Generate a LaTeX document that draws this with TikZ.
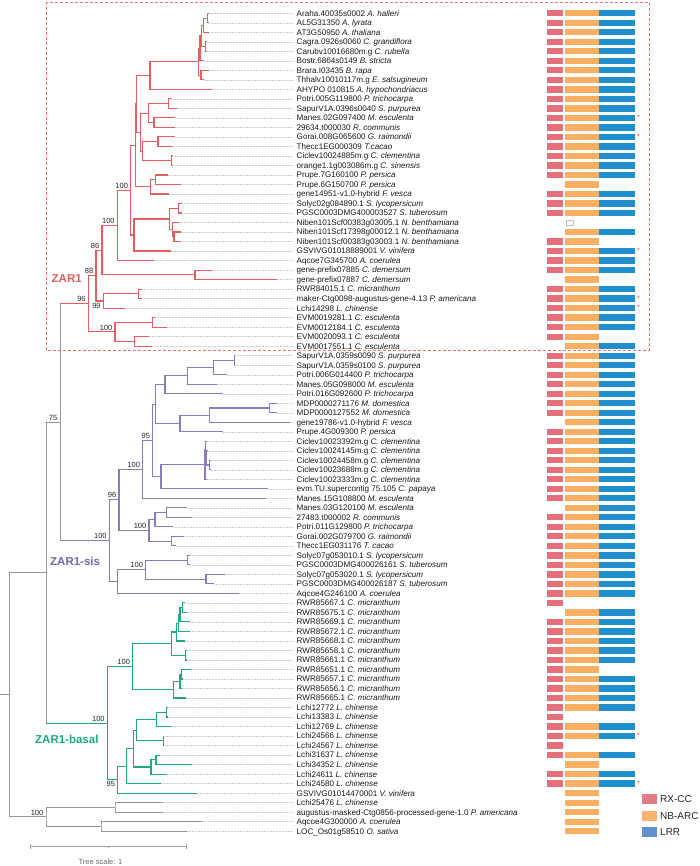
\documentclass[tikz,border=0pt]{standalone}
\usepackage{fontspec}
\setmainfont{Liberation Sans}
\definecolor{zred}{RGB}{224,96,96}
\definecolor{zpur}{RGB}{140,122,190}
\definecolor{zpurt}{RGB}{120,100,175}
\definecolor{zgrn}{RGB}{32,168,128}
\definecolor{zgry}{RGB}{150,150,150}
\definecolor{bR}{RGB}{228,112,124}
\definecolor{bO}{RGB}{250,176,98}
\definecolor{bB}{RGB}{32,142,204}
\definecolor{lR}{RGB}{226,124,134}
\definecolor{lO}{RGB}{250,178,112}
\definecolor{lB}{RGB}{96,144,210}
\tikzset{
 lab/.style={anchor=base west, inner sep=0pt, yshift=-2.9pt, font=\fontsize{8.1}{9}\selectfont, text=black!90},
 lead/.style={draw=gray!40, line width=0.35pt, dash pattern=on 0.5pt off 1pt},
 brR/.style={draw=zred, line width=1.1pt},
 brP/.style={draw=zpur, line width=1.1pt},
 brG/.style={draw=zgrn, line width=1.1pt},
 brK/.style={draw=zgry, line width=1pt},
 bs/.style={anchor=south east, inner sep=0pt, font=\fontsize{7.5}{8}\selectfont, text=black!85, xshift=-2.5pt, yshift=1.6pt},
 bsb/.style={anchor=north east, inner sep=0pt, font=\fontsize{7.5}{8}\selectfont, text=black!85, xshift=-2.5pt, yshift=-1.8pt},
 clab/.style={anchor=base west, inner sep=0pt, yshift=-4.1pt, font=\fontsize{11.5}{12}\selectfont\bfseries},
 ast/.style={inner sep=0pt, text=zred, font=\fontsize{8}{8}\selectfont},
 zbox/.style={draw=zred!85, line width=0.9pt, dash pattern=on 3pt off 2pt},
}
\newcommand{\lf}[4]{\coordinate (t#1) at (#2,#1); \draw[lead] (t#1) -- (293,#1); \node[lab] (l#1) at (296.5,#1) {#3 \textit{#4}};}
\newcommand{\pr}[4]{\draw[#1] (#3) -| (#2) |- (#4);}
\newcommand{\dm}[4]{%
 \ifnum#2=1 \fill[bR] (547,#1) +(0,-0.33) rectangle +(16,0.33);\fi
 \ifnum#3=1 \fill[bO] (565,#1) +(0,-0.33) rectangle +(34,0.33);\fi
 \ifnum#4=1 \fill[bB] (599,#1) +(0,-0.33) rectangle +(36,0.33);\fi}
\begin{document}
\begin{tikzpicture}[x=1pt,y=-9.51pt,line join=miter]
\fill[white] (0pt,3.79pt) rectangle (700pt,-862.21pt);
\useasboundingbox (0pt,3.79pt) rectangle (700pt,-862.21pt);
% leaves
\lf{1}{209.3}{Araha.40035s0002}{A. halleri}
\lf{2}{209.3}{AL5G31350}{A. lyrata}
\lf{3}{209.3}{AT3G50950}{A. thaliana}
\lf{4}{207.3}{Cagra.0926s0060}{C. grandiflora}
\lf{5}{207.3}{Carubv10016680m.g}{C. rubella}
\lf{6}{204}{Bostr.6864s0149}{B. stricta}
\lf{7}{209.3}{Brara.I03435}{B. rapa}
\lf{8}{204}{Thhalv10010117m.g}{E. salsugineum}
\lf{9}{212.3}{AHYPO 010815}{A. hypochondriacus}
\lf{10}{172.3}{Potri.005G119800}{P. trichocarpa}
\lf{11}{176.7}{SapurV1A.0396s0040}{S. purpurea}
\lf{12}{175}{Manes.02G097400}{M. esculenta}
\lf{13}{175}{29634.t000030}{R. communis}
\lf{14}{175}{Gorai.008G065600}{G. raimondii}
\lf{15}{173.3}{Thecc1EG000309}{T.cacao}
\lf{16}{172.3}{Ciclev10024885m.g}{C. clementina}
\lf{17}{172.3}{orange1.1g003086m.g}{C. sinensis}
\lf{18}{167.7}{Prupe.7G160100}{P. persica}
\lf{19}{181}{Prupe.6G150700}{P. persica}
\lf{20}{168.7}{gene14951-v1.0-hybrid}{F. vesca}
\lf{21}{182.3}{Solyc02g084890.1}{S. lycopersicum}
\lf{22}{182.3}{PGSC0003DMG400003527}{S. tuberosum}
\lf{23}{179}{Niben101Scf00383g03005.1}{N. benthamiana}
\lf{24}{181}{Niben101Scf17398g00012.1}{N. benthamiana}
\lf{25}{181}{Niben101Scf00383g03003.1}{N. benthamiana}
\lf{26}{170.7}{GSVIVG01018889001}{V. vinifera}
\lf{27}{153.7}{Aqcoe7G345700}{A. coerulea}
\lf{28}{212.3}{gene-prefix07885}{C. demersum}
\lf{29}{276.7}{gene-prefix07887}{C. demersum}
\lf{30}{142.3}{RWR84015.1}{C. micranthum}
\lf{31}{142.3}{maker-Ctg0098-augustus-gene-4.13}{P. americana}
\lf{32}{125}{Lchi14298}{L. chinense}
\lf{33}{155.3}{EVM0019281.1}{C. esculenta}
\lf{34}{167.3}{EVM0012184.1}{C. esculenta}
\lf{35}{148.7}{EVM0020093.1}{C. esculenta}
\lf{36}{152}{EVM0017551.1}{C. esculenta}
\lf{37}{235.3}{SapurV1A.0359s0090}{S. purpurea}
\lf{38}{235.3}{SapurV1A.0359s0100}{S. purpurea}
\lf{39}{226.7}{Potri.006G014400}{P. trichocarpa}
\lf{40}{216.7}{Manes.05G098000}{M. esculenta}
\lf{41}{222.7}{Potri.016G092600}{P. trichocarpa}
\lf{42}{276.7}{MDP0000271176}{M. domestica}
\lf{43}{276.7}{MDP0000127552}{M. domestica}
\lf{44}{290}{gene19786-v1.0-hybrid}{F. vesca}
\lf{45}{222.7}{Prupe.4G009300}{P. persica}
\lf{46}{206.7}{Ciclev10023392m.g}{C. clementina}
\lf{47}{207.3}{Ciclev10024145m.g}{C. clementina}
\lf{48}{210.7}{Ciclev10024458m.g}{C. clementina}
\lf{49}{210.7}{Ciclev10023688m.g}{C. clementina}
\lf{50}{206.7}{Ciclev10023333m.g}{C. clementina}
\lf{51}{268.3}{evm.TU.supercontig 75.105}{C. papaya}
\lf{52}{266}{Manes.15G108800}{M. esculenta}
\lf{53}{187.3}{Manes.03G120100}{M. esculenta}
\lf{54}{191.7}{27483.t000002}{R. communis}
\lf{55}{173.3}{Potri.011G129800}{P. trichocarpa}
\lf{56}{184.3}{Gorai.002G079700}{G. raimondii}
\lf{57}{176}{Thecc1EG031176}{T. cacao}
\lf{58}{190}{Solyc07g053010.1}{S. lycopersicum}
\lf{59}{190}{PGSC0003DMG400026161}{S. tuberosum}
\lf{60}{225}{Solyc07g053020.1}{S. lycopersicum}
\lf{61}{214.3}{PGSC0003DMG400026187}{S. tuberosum}
\lf{62}{239}{Aqcoe4G246100}{A. coerulea}
\lf{63}{185}{RWR85667.1}{C. micranthum}
\lf{64}{186.7}{RWR85675.1}{C. micranthum}
\lf{65}{190}{RWR85669.1}{C. micranthum}
\lf{66}{190}{RWR85672.1}{C. micranthum}
\lf{67}{185}{RWR85668.1}{C. micranthum}
\lf{68}{187}{RWR85658.1}{C. micranthum}
\lf{69}{187}{RWR85661.1}{C. micranthum}
\lf{70}{191}{RWR85651.1}{C. micranthum}
\lf{71}{183.3}{RWR85657.1}{C. micranthum}
\lf{72}{181.7}{RWR85656.1}{C. micranthum}
\lf{73}{185.7}{RWR85665.1}{C. micranthum}
\lf{74}{167.7}{Lchi12772}{L. chinense}
\lf{75}{167.7}{Lchi13383}{L. chinense}
\lf{76}{170.7}{Lchi12769}{L. chinense}
\lf{77}{164}{Lchi24566}{L. chinense}
\lf{78}{164}{Lchi24567}{L. chinense}
\lf{79}{160}{Lchi31637}{L. chinense}
\lf{80}{191.7}{Lchi34352}{L. chinense}
\lf{81}{166.7}{Lchi24611}{L. chinense}
\lf{82}{161}{Lchi24580}{L. chinense}
\lf{83}{196.7}{GSVIVG01014470001}{V. vinifera}
\lf{84}{162.7}{Lchi25476}{L. chinense}
\lf{85}{162.7}{augustus-masked-Ctg0856-processed-gene-1.0}{P. americana}
\lf{86}{201.7}{Aqcoe4G300000}{A. coerulea}
\lf{87}{187.3}{LOC\_Os01g58510}{O. sativa}
% ZAR1 internal nodes
\coordinate (a12) at (207.3,1.5);
\coordinate (a123) at (203.3,2.25);
\coordinate (a45) at (205.7,4.5);
\coordinate (a15) at (201.3,3.375);
\coordinate (a16) at (200,4.6875);
\coordinate (a78) at (201,7.5);
\coordinate (aBr) at (198.3,6.094);
\coordinate (aBrA) at (150,7.547);
\coordinate (a1011) at (168.3,10.5);
\coordinate (a1213) at (154,12.5);
\coordinate (a1013) at (148.3,11.5);
\coordinate (a1415) at (158,14.5);
\coordinate (a1617) at (171.7,16.5);
\coordinate (a1417) at (142.7,15.5);
\coordinate (a1017) at (140.7,13.5);
\coordinate (aM1) at (136.7,10.52);
\coordinate (a1819) at (155.7,18.5);
\coordinate (a1820) at (150.7,19.25);
\coordinate (aM2) at (135.3,14.89);
\coordinate (a2122) at (178.3,21.5);
\coordinate (a2425) at (174,24.5);
\coordinate (a2325) at (172.7,23.75);
\coordinate (aSol) at (169.3,22.625);
\coordinate (aSolV) at (134,24.31);
\coordinate (aC) at (130.7,19.6);
\coordinate (aB) at (117.3,23.3);
\coordinate (aDem) at (195,28.5);
\coordinate (a86) at (102,25.9);
\coordinate (a3031) at (138.3,30.5);
\coordinate (a99) at (103.3,31.25);
\coordinate (a88) at (96,28.575);
\coordinate (a3334) at (152.7,33.5);
\coordinate (a3536) at (134.3,35.5);
\coordinate (aE) at (115,34.5);
\coordinate (aZ) at (88.3,31.54);
\pr{brR}{a12}{t1}{t2}
\pr{brR}{a123}{a12}{t3}
\pr{brR}{a45}{t4}{t5}
\pr{brR}{a15}{a123}{a45}
\pr{brR}{a16}{a15}{t6}
\pr{brR}{a78}{t7}{t8}
\pr{brR}{aBr}{a16}{a78}
\pr{brR}{aBrA}{aBr}{t9}
\pr{brR}{a1011}{t10}{t11}
\pr{brR}{a1213}{t12}{t13}
\pr{brR}{a1013}{a1011}{a1213}
\pr{brR}{a1415}{t14}{t15}
\pr{brR}{a1617}{t16}{t17}
\pr{brR}{a1417}{a1415}{a1617}
\pr{brR}{a1017}{a1013}{a1417}
\pr{brR}{aM1}{aBrA}{a1017}
\pr{brR}{a1819}{t18}{t19}
\pr{brR}{a1820}{a1819}{t20}
\pr{brR}{aM2}{aM1}{a1820}
\pr{brR}{a2122}{t21}{t22}
\pr{brR}{a2425}{t24}{t25}
\pr{brR}{a2325}{t23}{a2425}
\pr{brR}{aSol}{a2122}{a2325}
\pr{brR}{aSolV}{aSol}{t26}
\pr{brR}{aC}{aM2}{aSolV}
\pr{brR}{aB}{aC}{t27}
\pr{brR}{aDem}{t28}{t29}
\pr{brR}{a86}{aB}{aDem}
\pr{brR}{a3031}{t30}{t31}
\pr{brR}{a99}{a3031}{t32}
\pr{brR}{a88}{a86}{a99}
\pr{brR}{a3334}{t33}{t34}
\pr{brR}{a3536}{t35}{t36}
\pr{brR}{aE}{a3334}{a3536}
\pr{brR}{aZ}{a88}{aE}
% ZAR1-sis internal nodes
\coordinate (s3738) at (234.3,37.5);
\coordinate (s3739) at (213.3,38.25);
\coordinate (s3740) at (187.3,39.125);
\coordinate (s3741) at (165,40.06);
\coordinate (s4243) at (269.3,42.5);
\coordinate (s4244) at (209.3,43.25);
\coordinate (s4245) at (180,44.125);
\coordinate (s3745) at (155.3,42.09);
\coordinate (s4849) at (209.3,48.5);
\coordinate (s4749) at (206.7,47.75);
\coordinate (s4649) at (205.8,46.875);
\coordinate (sCic) at (205,48.44);
\coordinate (s4651) at (161,49.72);
\coordinate (s95) at (152.7,45.9);
\coordinate (s100a) at (142.7,48.95);
\coordinate (s5354) at (166.7,53.5);
\coordinate (s5355) at (155,54.25);
\coordinate (s5657) at (171.7,56.5);
\coordinate (s5357) at (149,55.375);
\coordinate (s96) at (119,52.16);
\coordinate (s5859) at (187.3,58.5);
\coordinate (s6061) at (206,60.5);
\coordinate (s5861) at (145.7,59.5);
\coordinate (s5862) at (117.3,60.75);
\coordinate (sS) at (109.3,56.45);
\pr{brP}{s3738}{t37}{t38}
\pr{brP}{s3739}{s3738}{t39}
\pr{brP}{s3740}{s3739}{t40}
\pr{brP}{s3741}{s3740}{t41}
\pr{brP}{s4243}{t42}{t43}
\pr{brP}{s4244}{s4243}{t44}
\pr{brP}{s4245}{s4244}{t45}
\pr{brP}{s3745}{s3741}{s4245}
\pr{brP}{s4849}{t48}{t49}
\pr{brP}{s4749}{t47}{s4849}
\pr{brP}{s4649}{t46}{s4749}
\pr{brP}{sCic}{s4649}{t50}
\pr{brP}{s4651}{sCic}{t51}
\pr{brP}{s95}{s3745}{s4651}
\pr{brP}{s100a}{s95}{t52}
\pr{brP}{s5354}{t53}{t54}
\pr{brP}{s5355}{s5354}{t55}
\pr{brP}{s5657}{t56}{t57}
\pr{brP}{s5357}{s5355}{s5657}
\pr{brP}{s96}{s100a}{s5357}
\pr{brP}{s5859}{t58}{t59}
\pr{brP}{s6061}{t60}{t61}
\pr{brP}{s5861}{s5859}{s6061}
\pr{brP}{s5862}{s5861}{t62}
\pr{brP}{sS}{s96}{s5862}
% ZAR1-basal internal nodes
\coordinate (b6364) at (182.7,63.5);
\coordinate (b6365) at (180,64.25);
\coordinate (b6366) at (178.5,65.125);
\coordinate (b6367) at (176.7,66.06);
\coordinate (b6869) at (185.7,68.5);
\coordinate (b6369) at (171.7,67.28);
\coordinate (b7071) at (181.7,70.5);
\coordinate (b7072) at (180,71.25);
\coordinate (b7073) at (173.3,72.125);
\coordinate (b6373) at (132.7,69.7);
\coordinate (b7475) at (166.7,74.5);
\coordinate (b7476) at (156.7,75.25);
\coordinate (b7778) at (163.3,77.5);
\coordinate (b7478) at (136.7,76.375);
\coordinate (b7980) at (156,79.5);
\coordinate (b7981) at (151,80.25);
\coordinate (b7481) at (133.3,78.31);
\coordinate (b7482) at (126.7,80.16);
\coordinate (b7483) at (117.7,81.58);
\coordinate (bR) at (107.3,75.64);
\pr{brG}{b6364}{t63}{t64}
\pr{brG}{b6365}{b6364}{t65}
\pr{brG}{b6366}{b6365}{t66}
\pr{brG}{b6367}{b6366}{t67}
\pr{brG}{b6869}{t68}{t69}
\pr{brG}{b6369}{b6367}{b6869}
\pr{brG}{b7071}{t70}{t71}
\pr{brG}{b7072}{b7071}{t72}
\pr{brG}{b7073}{b7072}{t73}
\pr{brG}{b6373}{b6369}{b7073}
\pr{brG}{b7475}{t74}{t75}
\pr{brG}{b7476}{b7475}{t76}
\pr{brG}{b7778}{t77}{t78}
\pr{brG}{b7478}{b7476}{b7778}
\pr{brG}{b7980}{t79}{t80}
\pr{brG}{b7981}{b7980}{t81}
\pr{brG}{b7481}{b7478}{b7981}
\pr{brG}{b7482}{b7481}{t82}
\pr{brG}{b7483}{b7482}{t83}
\pr{brG}{bR}{b6373}{b7483}
% outgroup and backbone
\coordinate (o8485) at (115,84.5);
\coordinate (o8687) at (101,86.5);
\coordinate (oO) at (46,85.5);
\coordinate (gB) at (60,44.0);
\coordinate (gA) at (46,59.82);
\coordinate (root) at (9.3,72.66);
\coordinate (rootstub) at (0,72.66);
\pr{brK}{o8485}{t84}{t85}
\pr{brK}{o8687}{t86}{t87}
\pr{brK}{oO}{o8485}{o8687}
\draw[brK] (gB |- aZ) -- (gB |- sS);
\draw[brR] (gB |- aZ) -- (aZ);
\draw[brP] (gB |- sS) -- (sS);
\draw[brK] (gA |- gB) -- (gA |- bR);
\draw[brK] (gA |- gB) -- (gB);
\draw[brG] (gA |- bR) -- (bR);
\pr{brK}{root}{gA}{oO}
\draw[brK] (rootstub) -- (root);
% bootstrap values
\node[bs] at (aZ) {96};
\node[bs] at (a88) {88};
\node[bs] at (a86) {86};
\node[bs] at (aB) {100};
\node[bs] at (aC) {100};
\node[bsb] at (a99) {99};
\node[bs] at (aE) {100};
\node[bs] at (gB) {75};
\node[bs] at (s95) {95};
\node[bs] at (s100a) {100};
\node[bs] at (s96) {96};
\node[bs] at (s5357) {100};
\node[bs] at (s5861) {100};
\node[bs] at (sS) {100};
\node[bs] at (b6373) {100};
\node[bs] at (bR) {100};
\node[bsb] at (b7483) {95};
\node[bs] at (oO) {100};
% clade labels
\node[clab, text=zred] (cz) at (51.5,28.83) {ZAR1};
\node[clab, text=zpurt] (cs) at (50,58.59) {ZAR1-sis};
\node[clab, text=zgrn] (cb) at (35,77.34) {ZAR1-basal};
% ZAR1 box
\draw[zbox] (46.5,-0.136) rectangle (649,36.48);
% domains
\dm{1}{1}{1}{1}\dm{2}{1}{1}{1}\dm{3}{1}{1}{1}\dm{4}{1}{1}{1}\dm{5}{1}{1}{1}
\dm{6}{1}{1}{1}\dm{7}{1}{1}{1}\dm{8}{1}{1}{1}\dm{9}{1}{1}{1}\dm{10}{1}{1}{1}
\dm{11}{1}{1}{1}\dm{12}{1}{1}{1}\dm{13}{1}{1}{1}\dm{14}{1}{1}{1}\dm{15}{1}{1}{1}
\dm{16}{1}{1}{1}\dm{17}{1}{1}{1}\dm{18}{1}{1}{1}\dm{19}{0}{1}{0}\dm{20}{1}{1}{1}
\dm{21}{1}{1}{1}\dm{22}{1}{1}{1}\dm{24}{0}{1}{1}\dm{25}{1}{1}{0}
\draw[gray!50, line width=0.4pt] (566,23) +(0,-0.25) rectangle +(7,0.25);
\dm{26}{1}{1}{1}\dm{27}{1}{1}{1}\dm{28}{1}{1}{1}\dm{29}{0}{1}{0}\dm{30}{1}{1}{1}
\dm{31}{1}{1}{1}\dm{32}{1}{1}{1}\dm{33}{1}{1}{1}\dm{34}{1}{1}{1}\dm{35}{1}{1}{0}
\dm{36}{0}{1}{1}
\dm{37}{1}{1}{1}\dm{38}{1}{1}{1}\dm{39}{1}{1}{1}\dm{40}{1}{1}{1}\dm{41}{1}{1}{1}
\dm{42}{1}{1}{1}\dm{43}{1}{1}{1}\dm{44}{0}{1}{1}\dm{45}{1}{1}{1}\dm{46}{1}{1}{1}
\dm{47}{1}{1}{1}\dm{48}{1}{1}{1}\dm{49}{1}{1}{1}\dm{50}{1}{1}{1}\dm{51}{1}{1}{1}
\dm{52}{1}{1}{1}\dm{53}{0}{1}{1}\dm{54}{1}{1}{1}\dm{55}{1}{1}{1}\dm{56}{1}{1}{1}
\dm{57}{1}{1}{1}\dm{58}{1}{1}{1}\dm{59}{1}{1}{1}\dm{60}{1}{1}{1}\dm{61}{1}{1}{1}
\dm{62}{1}{1}{1}
\dm{63}{1}{0}{0}\dm{64}{0}{1}{1}\dm{65}{1}{1}{1}\dm{66}{1}{1}{1}\dm{67}{1}{1}{1}
\dm{68}{1}{1}{1}\dm{69}{1}{1}{1}\dm{70}{1}{1}{0}\dm{71}{1}{1}{1}\dm{72}{1}{1}{1}
\dm{73}{1}{1}{1}\dm{74}{1}{1}{1}\dm{75}{1}{0}{0}\dm{76}{1}{1}{1}\dm{77}{1}{1}{1}
\dm{78}{1}{0}{0}\dm{79}{1}{1}{1}\dm{80}{0}{1}{0}\dm{81}{1}{1}{1}\dm{82}{1}{1}{1}
\dm{83}{0}{1}{0}\dm{84}{0}{1}{0}\dm{85}{0}{1}{0}\dm{86}{0}{1}{0}\dm{87}{0}{1}{0}
% asterisks
\foreach \k in {12,14,26,31,32,77,82} \node[ast] at (638.5,\k) {*};
% legend
\fill[lR] (642,83.09) rectangle (657,84.14);
\fill[lO] (642,84.91) rectangle (657,85.96);
\fill[lB] (642,86.59) rectangle (657,87.58);
\node[anchor=west, inner sep=0pt, font=\fontsize{10}{11}\selectfont, text=black!85] (lg1) at (660,83.62) {RX-CC};
\node[anchor=west, inner sep=0pt, font=\fontsize{10}{11}\selectfont, text=black!85] (lg2) at (660,85.44) {NB-ARC};
\node[anchor=west, inner sep=0pt, font=\fontsize{10}{11}\selectfont, text=black!85] (lg3) at (660,87.09) {LRR};
% scale bar
\coordinate (sb1) at (30,88.64);
\coordinate (sb2) at (186,88.64);
\coordinate (sbm) at (108,88.64);
\draw[draw=gray!75, line width=0.9pt] (sb1) -- (sb2);
\draw[draw=gray!75, line width=0.9pt] (sb1) +(0,-0.25) -- +(0,0.25);
\draw[draw=gray!75, line width=0.9pt] (sb2) +(0,-0.25) -- +(0,0.25);
\draw[draw=gray!75, line width=0.7pt] (sbm) -- +(0,0.18);
\node[anchor=base, inner sep=0pt, font=\fontsize{7.5}{8}\selectfont, text=gray!85!black] (ts) at (100.5,90.55) {Tree scale: 1};
\end{tikzpicture}
\end{document}
